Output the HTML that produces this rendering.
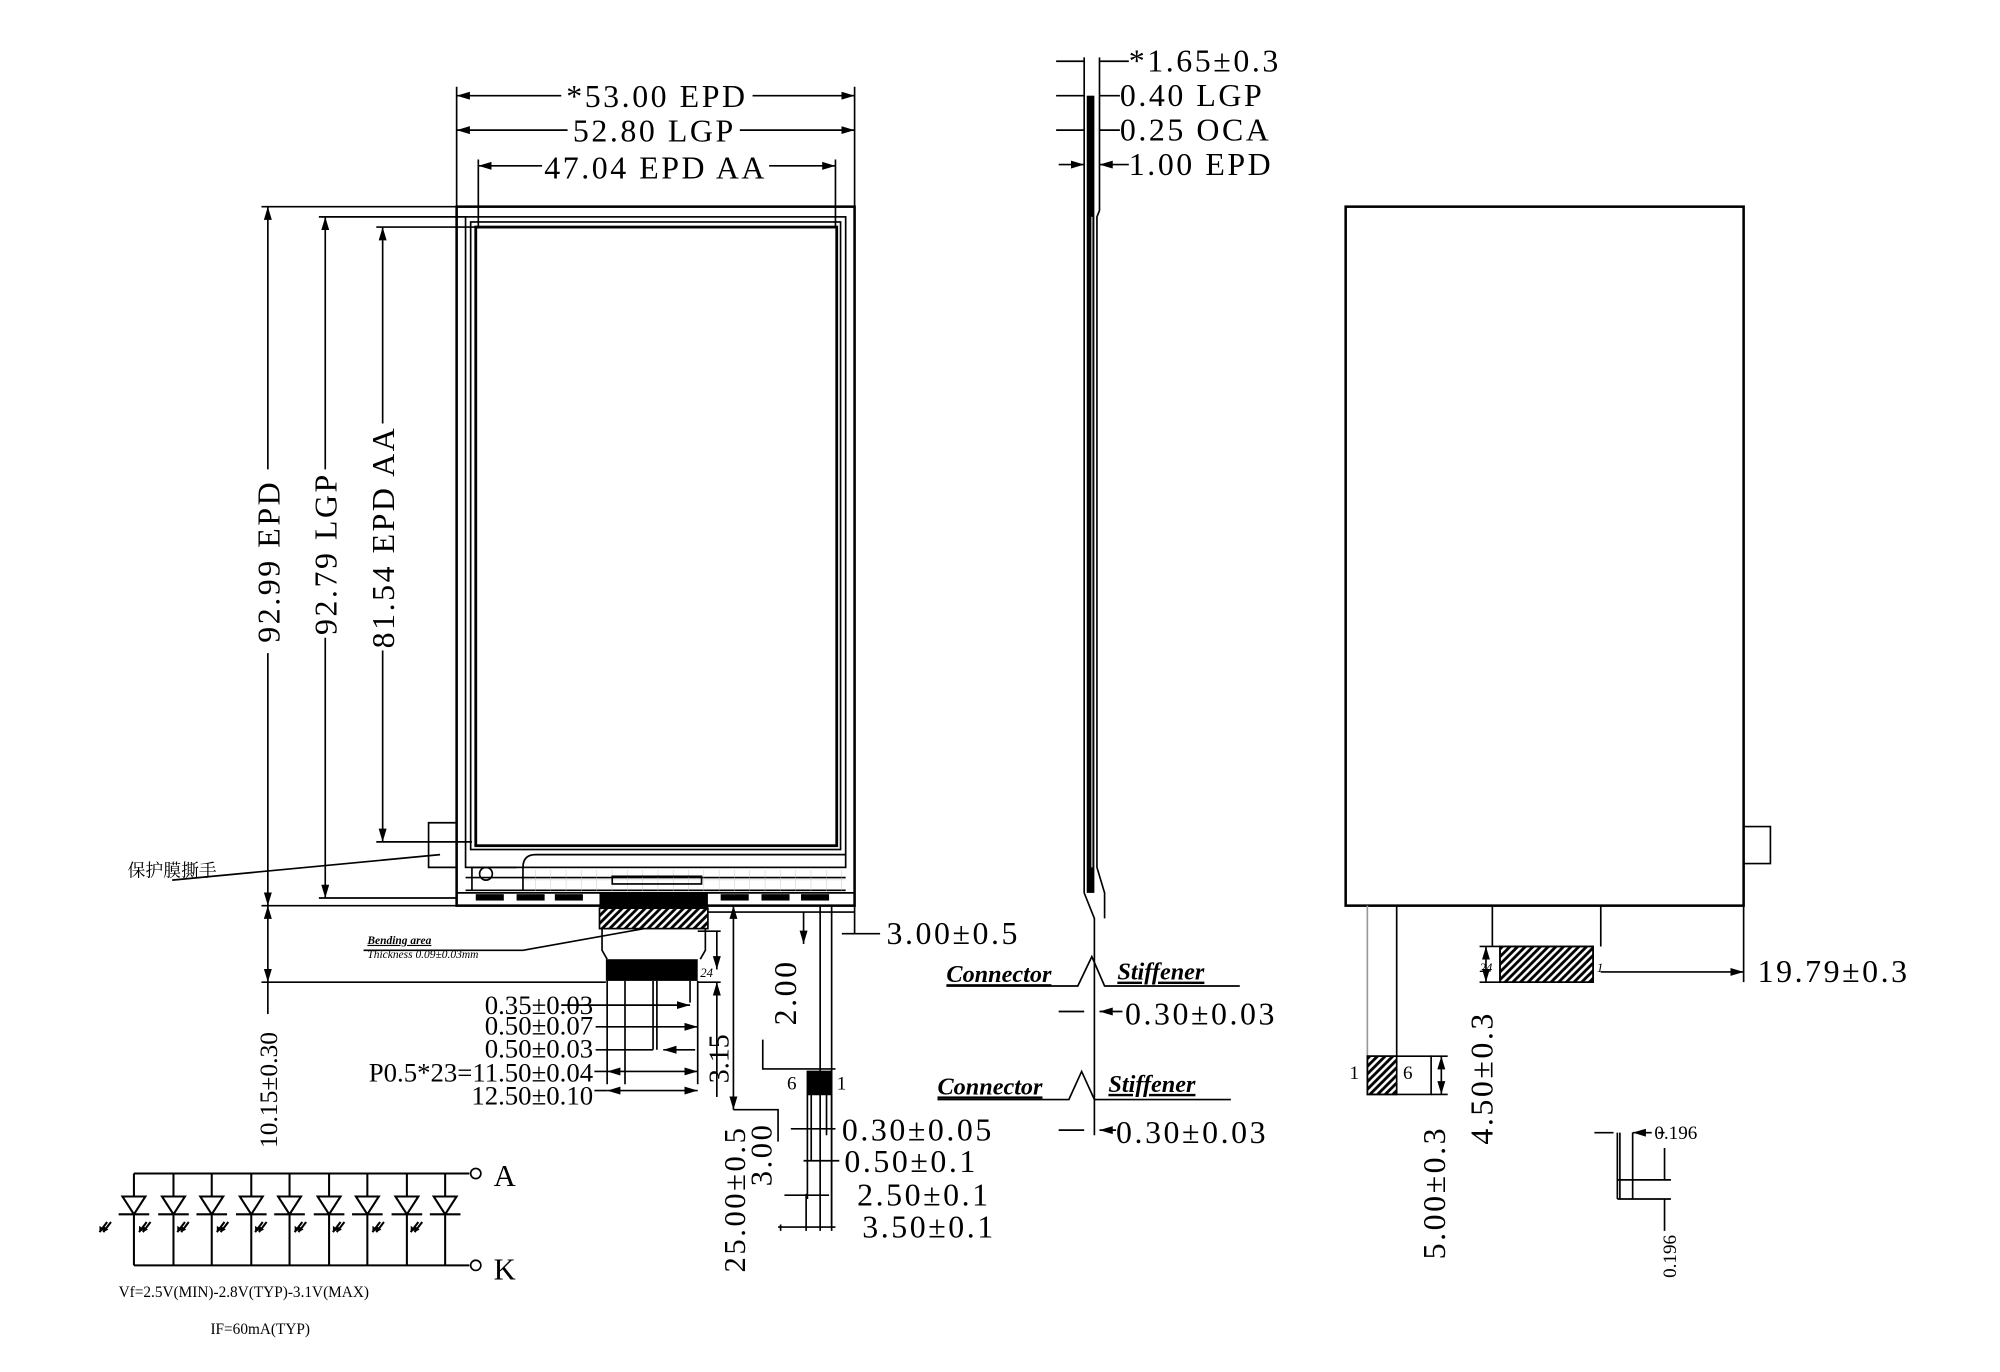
<!DOCTYPE html>
<html><head><meta charset="utf-8"><style>
html,body{margin:0;padding:0;background:#fff;}
svg{display:block}
text{font-family:"Liberation Serif","Noto Serif CJK SC",serif;fill:#000}
.s{font-family:"Liberation Sans","Noto Sans CJK SC",sans-serif}
.w{letter-spacing:2px}
</style></head><body>
<svg width="2000" height="1372" viewBox="0 0 1568 1075.6" xmlns="http://www.w3.org/2000/svg">
<defs>
<marker id="a" viewBox="0 0 10 6" refX="10" refY="3" markerWidth="8" markerHeight="5" orient="auto-start-reverse"><path d="M0,0L10,3L0,6z" fill="#000"/></marker>
<pattern id="h" width="6" height="6" patternUnits="userSpaceOnUse"><rect width="6" height="6" fill="#fff"/><path d="M0,6L6,0M-1,1L1,-1M5,7L7,5" stroke="#000" stroke-width="2.2"/></pattern>
<pattern id="g" width="12" height="10" patternUnits="userSpaceOnUse"><path d="M12,0V10M0,10H12" stroke="#bbb" stroke-width="0.6" fill="none"/></pattern>
<g id="led"><path d="M0,0V18M-9,18H9L0,32Z M-12,32H12M0,32V72" stroke="#000" stroke-width="1.6" fill="#fff"/><path d="M-18,38l-6,8m3,-8l-6,8" stroke="#000" stroke-width="1.6"/><path d="M-24,46l0,-5l4,3z M-27,46l0,-5l4,3z" fill="#000"/></g>
</defs>
<g fill="none" stroke="#000" stroke-width="1.3">
<rect x="358" y="162" width="312" height="548" stroke-width="2"/>
<rect x="365" y="170" width="298" height="510"/>
<rect x="369" y="174" width="290" height="492"/>
<rect x="373" y="178" width="283" height="485" stroke-width="2.2"/>
<path d="M365,698H663 M365,688H663" />
<rect x="410" y="682" width="253" height="17" fill="url(#g)" stroke="none"/>
<path d="M410,698V680Q410,670 420,670H663"/>
<path d="M370,698V680H405"/>
<circle cx="381" cy="685" r="5"/>
<rect x="480" y="687" width="70" height="6"/>
<path d="M336,645H358V680H336Z"/>
<path d="M358,700H670V710"/>
<g fill="#000" stroke="none">
<rect x="373" y="701" width="22" height="5"/><rect x="405" y="701" width="22" height="5"/><rect x="435" y="701" width="22" height="5"/>
<rect x="565" y="701" width="22" height="5"/><rect x="597" y="701" width="22" height="5"/><rect x="628" y="701" width="22" height="5"/>
<rect x="470" y="700" width="85" height="12"/>
<rect x="475" y="752" width="72" height="17"/>
</g>
<rect x="470" y="712" width="85" height="16" fill="url(#h)"/>
<path d="M472,728V745L476,752M553,728V745L549,752"/>
<path d="M476,769V850M547,769V850M490,769V850M512,769V823M515,769V823M541,769V786"/>
<path d="M358,162V68M670,162V68M375,178V125M655,178V125"/>
<path d="M358,75H440M590,75H670" marker-start="url(#a)" marker-end="url(#a)"/>
<path d="M358,102H445M580,102H670" marker-start="url(#a)" marker-end="url(#a)"/>
<path d="M375,130H425M603,130H655" marker-start="url(#a)" marker-end="url(#a)"/>
<path d="M205,162H358M250,170H365M295,178H373M205,710H358M250,704H358M295,660H370M205,770H475"/>
<path d="M210,162V368M210,512V710" marker-start="url(#a)" marker-end="url(#a)"/>
<path d="M255,170V368M255,500V704" marker-start="url(#a)" marker-end="url(#a)"/>
<path d="M300,178V332M300,510V660" marker-start="url(#a)" marker-end="url(#a)"/>
<path d="M210,710V770" marker-start="url(#a)" marker-end="url(#a)"/>
<path d="M210,770V795"/>
<path d="M135,690L345,670M285,745H410L505,728"/>
<path d="M470,788H440 M470,788H541" marker-end="url(#a)"/>
<path d="M467,805H547" marker-end="url(#a)"/>
<path d="M467,823H512M545,823H520" marker-end="url(#a)"/>
<path d="M476,840H547" marker-start="url(#a)" marker-end="url(#a)"/>
<path d="M476,855H547" marker-start="url(#a)" marker-end="url(#a)"/>
<path d="M466,840H476M466,855H476"/>
<path d="M547,770H565M547,730H565"/>
<path d="M562,730V760" marker-end="url(#a)"/>
<path d="M562,770V860" marker-start="url(#a)"/>
<path d="M555,715H670M597,715H630" />
<path d="M575,710V870" marker-start="url(#a)" marker-end="url(#a)"/>
<path d="M630,715V740" marker-end="url(#a)"/>
<path d="M652,710V965M643,710V965M670,710V732M670,732H690M660,732H670" />
<path d="M598,815V838H635M598,838H655"/>
<rect x="633" y="840" width="19" height="18" fill="#000"/>
<path d="M633,858V940M636,858V910M648,858V890M652,858V960"/>
<path d="M575,870H610V895" />
<path d="M655,885H620M658,910H630M650,937H615M655,962H610" />
<path d="M632,936V965M612,960V965"/>
<path d="M850,45V700L858,720V890M862,45V165L860,170V680L866,700V720"/>
<rect x="852" y="75" width="6" height="625" fill="#000" stroke="none"/>
<path d="M856,170V680" stroke="#999"/>
<path d="M828,48H850M828,75H850M828,102H850M830,129H850" marker-end="url(#a)"/>
<path d="M885,48H862M878,75H862M878,102H862M885,129H862" marker-end="url(#a)"/>
<path d="M742,773H845L856,750L866,773H972M735,862H838L848,840L858,862H965"/>
<path d="M830,793H850M880,793H862" marker-end="url(#a)"/>
<path d="M830,886H850M875,886H862" marker-end="url(#a)"/>
<rect x="1055" y="162" width="312" height="548" stroke-width="2"/>
<path d="M1367,648H1388V677H1367"/>
<path d="M1170,710V742M1255,710V742M1095,710V828"/>
<path d="M1072,710V828" stroke="#999"/>
<rect x="1176" y="742" width="73" height="28" fill="url(#h)"/>
<path d="M1176,742H1249V770H1176Z"/>
<path d="M1367,710V770M1255,762H1367" marker-end="url(#a)"/>
<path d="M1160,742H1176M1160,770H1176"/>
<path d="M1165,742V770" marker-start="url(#a)" marker-end="url(#a)"/>
<rect x="1072" y="828" width="23" height="30" fill="url(#h)"/>
<path d="M1072,828H1122V858H1072Z"/>
<path d="M1130,828V858" marker-start="url(#a)" marker-end="url(#a)"/>
<path d="M1122,828H1135M1122,858H1135"/>
<path d="M1250,888H1265M1270,888V940M1268,888V940M1280,888V940M1268,925H1310M1268,940H1310M1305,888H1300"/>
<path d="M1295,888H1280" marker-end="url(#a)"/>
<path d="M1305,925V900M1305,940V965"/>
<path d="M105,920H368M105,992H368" stroke-width="1.6"/>
<circle cx="373" cy="920" r="4"/><circle cx="373" cy="992" r="4"/>
</g>
<g>
<use href="#led" x="105" y="920"/><use href="#led" x="136" y="920"/><use href="#led" x="166" y="920"/><use href="#led" x="197" y="920"/><use href="#led" x="227" y="920"/><use href="#led" x="258" y="920"/><use href="#led" x="288" y="920"/><use href="#led" x="319" y="920"/><use href="#led" x="349" y="920"/>
</g>
<g font-size="25" class="w">
<text x="515" y="84" text-anchor="middle">*53.00 EPD</text>
<text x="513" y="111" text-anchor="middle">52.80 LGP</text>
<text x="514" y="140" text-anchor="middle">47.04 EPD AA</text>
<text transform="translate(219,440) rotate(-90)" text-anchor="middle">92.99 EPD</text>
<text transform="translate(264,434) rotate(-90)" text-anchor="middle">92.79 LGP</text>
<text transform="translate(309,421) rotate(-90)" text-anchor="middle">81.54 EPD AA</text>
<text x="695" y="740">3.00±0.5</text>
<text transform="translate(624,778) rotate(-90)" text-anchor="middle">2.00</text>
<text transform="translate(584,940) rotate(-90)" text-anchor="middle" font-size="24">25.00±0.5</text>
<text transform="translate(605,905) rotate(-90)" text-anchor="middle" font-size="24">3.00</text>
<text x="660" y="894">0.30±0.05</text>
<text x="662" y="919">0.50±0.1</text>
<text x="672" y="945">2.50±0.1</text>
<text x="676" y="970">3.50±0.1</text>
<text x="885" y="56">*1.65±0.3</text>
<text x="878" y="83">0.40 LGP</text>
<text x="878" y="110">0.25 OCA</text>
<text x="885" y="137">1.00 EPD</text>
<text x="882" y="803">0.30±0.03</text>
<text x="875" y="896">0.30±0.03</text>
<text x="1378" y="770">19.79±0.3</text>
<text transform="translate(1170,845) rotate(-90)" text-anchor="middle">4.50±0.3</text>
<text transform="translate(1133,935) rotate(-90)" text-anchor="middle">5.00±0.3</text>
<text x="387" y="1003" font-size="24">K</text>
<text x="387" y="930" font-size="24">A</text>
</g>
<g font-size="21" class="s">
<text x="217" y="900" transform="rotate(-90 217 900)" font-size="20">10.15±0.30</text>
<text x="465" y="795" text-anchor="end">0.35±0.03</text>
<text x="465" y="811" text-anchor="end">0.50±0.07</text>
<text x="465" y="829" text-anchor="end">0.50±0.03</text>
<text x="465" y="848" text-anchor="end">P0.5*23=11.50±0.04</text>
<text x="465" y="866" text-anchor="end">12.50±0.10</text>
<text transform="translate(571,830) rotate(-90)" text-anchor="middle" font-size="22">3.15</text>
</g>
<g font-size="15">
<text x="617" y="854">6</text><text x="656" y="854">1</text>
<text x="1058" y="846">1</text><text x="1100" y="846">6</text>
<text x="1297" y="893">0.196</text>
<text transform="translate(1314,985) rotate(-90)" text-anchor="middle">0.196</text>
<text x="93" y="1017" font-size="12">Vf=2.5V(MIN)-2.8V(TYP)-3.1V(MAX)</text>
<text x="165" y="1046" font-size="12">IF=60mA(TYP)</text>
<text x="100" y="687" font-size="14">保护膜撕手</text>
</g>
<g font-style="italic" font-weight="bold" class="s">
<text x="742" y="770" font-size="19" text-decoration="underline">Connector</text>
<text x="876" y="768" font-size="19" text-decoration="underline">Stiffener</text>
<text x="735" y="858" font-size="19" text-decoration="underline">Connector</text>
<text x="869" y="856" font-size="19" text-decoration="underline">Stiffener</text>
<text x="288" y="740" font-size="9" text-decoration="underline">Bending  area</text>
<text x="288" y="751" font-size="9" font-weight="normal">Thickness  0.09±0.03mm</text>
<text x="478" y="766" font-size="10" font-weight="normal">1</text>
<text x="549" y="766" font-size="10" font-weight="normal">24</text>
<text x="1160" y="762" font-size="10" font-weight="normal">24</text>
<text x="1252" y="762" font-size="10" font-weight="normal">1</text>
</g>
</svg>
</body></html>
